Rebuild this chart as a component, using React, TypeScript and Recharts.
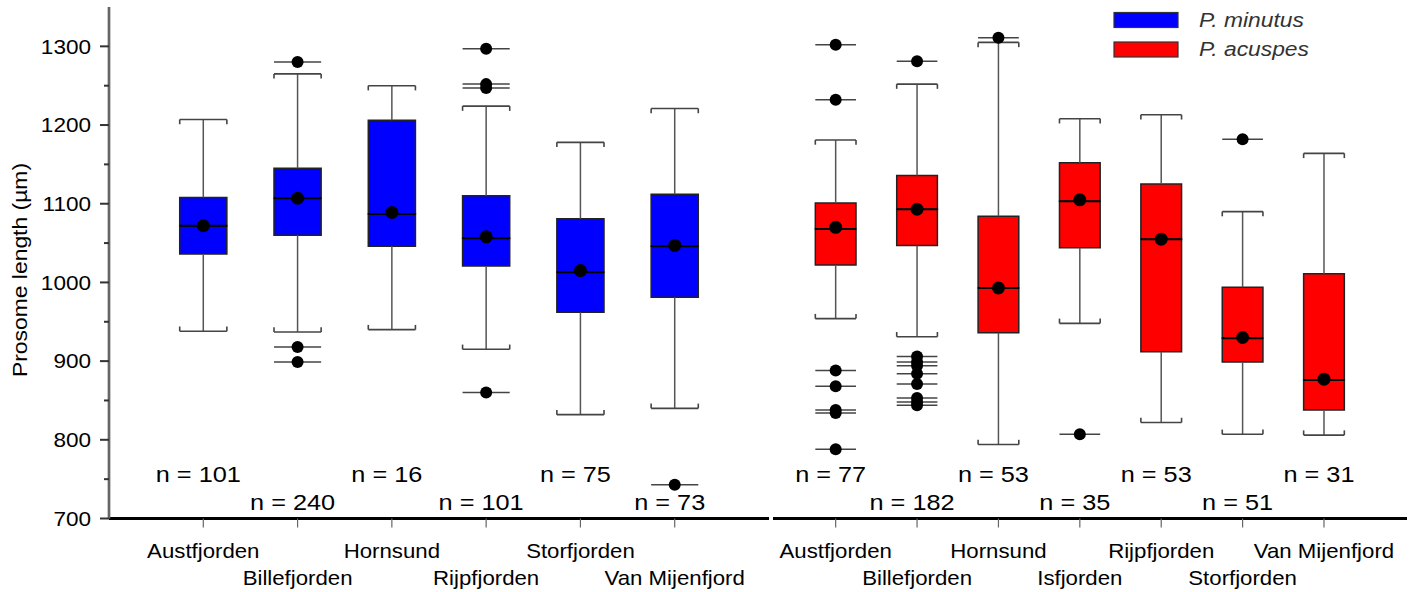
import React from 'react';
import { ScatterChart, Scatter, XAxis, YAxis, ReferenceArea, ReferenceLine, Legend } from 'recharts';

const FONT = '"Liberation Sans", Arial, Helvetica, sans-serif';

// ---------- data: P. minutus ----------
const minutusCategories = ['Austfjorden', 'Billefjorden', 'Hornsund', 'Rijpfjorden', 'Storfjorden', 'Van Mijenfjord'];
const minutusN = [101, 240, 16, 101, 75, 73];
const minutusLowCap = [938, 937, 940, 915, 832, 840];
const minutusQ1 = [1036, 1060, 1046, 1021, 962, 981];
const minutusMedian = [1072, 1107, 1087, 1056, 1013, 1046];
const minutusQ3 = [1108, 1145, 1206, 1110, 1081, 1112];
const minutusHighCap = [1207, 1265, 1250, 1224, 1178, 1221];
const minutusMean = [1072, 1107, 1089, 1058, 1015, 1047];
const minutusOutliers = [[], [1280, 918, 899], [], [1297, 1252, 1247, 860], [], [743]];

// ---------- data: P. acuspes ----------
const acuspesCategories = ['Austfjorden', 'Billefjorden', 'Hornsund', 'Isfjorden', 'Rijpfjorden', 'Storfjorden', 'Van Mijenfjord'];
const acuspesN = [77, 182, 53, 35, 53, 51, 31];
const acuspesLowCap = [954, 931, 794, 948, 822, 807, 806];
const acuspesQ1 = [1022, 1047, 936, 1044, 912, 899, 838];
const acuspesMedian = [1068, 1093, 993, 1103, 1055, 929, 876];
const acuspesQ3 = [1101, 1136, 1084, 1152, 1125, 994, 1011];
const acuspesHighCap = [1181, 1252, 1305, 1208, 1213, 1090, 1164];
const acuspesMean = [1070, 1093, 993, 1105, 1055, 930, 877];
const acuspesOutliers = [
  [1302, 1232, 888, 868, 838, 834, 788],
  [1281, 906, 899, 894, 884, 871, 853, 848, 844],
  [1311],
  [807],
  [],
  [1182],
  [],
];

const yTicks = [700, 750, 800, 850, 900, 950, 1000, 1050, 1100, 1150, 1200, 1250, 1300];
const Y_DOMAIN: [number, number] = [700, 1350];

// style / layout constants
const HALF = 0.25;
const CAP_TIP = 6;
const N_UPPER = 747;
const N_LOWER = 711;

type STProps = {
  x: number; y: number; anchor?: string; size: number; sx: number; fill?: string;
  italic?: boolean; rotate?: number; children: React.ReactNode;
};
const ST = ({ x, y, anchor = 'start', size, sx, fill = '#000', italic, rotate, children }: STProps) => (
  <text
    transform={`translate(${x},${y})${rotate ? ` rotate(${rotate})` : ''} scale(${sx},1)`}
    textAnchor={anchor as any}
    fontSize={size}
    fontFamily={FONT}
    fontStyle={italic ? 'italic' : 'normal'}
    fill={fill}
  >
    {children}
  </text>
);

const YTick = (p: any) => {
  const { x, y, payload } = p;
  const v = payload.value;
  const major = v % 100 === 0;
  return (
    <g>
      <line x1={x - (major ? 9 : 5)} x2={x} y1={y} y2={y} stroke="#333" strokeWidth={2} />
      {major && (
        <ST x={x - 18} y={y + 7.3} anchor="end" size={20.5} sx={1.1}>
          {v}
        </ST>
      )}
    </g>
  );
};

const makeXTick = (cats: string[]) => (p: any) => {
  const { x, y, payload } = p;
  const idx = Math.round(payload.value) - 1;
  const low = idx % 2 === 1;
  return (
    <g>
      <line x1={x} x2={x} y1={y} y2={y + 9} stroke="#666" strokeWidth={1.2} />
      <ST x={x} y={y + (low ? 66.5 : 39.5)} anchor="middle" size={20.2} sx={1.1}>
        {cats[idx]}
      </ST>
    </g>
  );
};

const YTitle = () => (
  <ST x={26.7} y={270} anchor="middle" size={21} sx={1.09} rotate={-90}>
    Prosome length (µm)
  </ST>
);

const MeanDot = (p: any) => <circle cx={p.cx} cy={p.cy} r={6.5} fill="#000" />;
const OutDot = (p: any) => <circle cx={p.cx} cy={p.cy} r={6} fill="#000" />;
const NLabel = (p: any) => (
  <ST x={p.cx - 5} y={p.cy} anchor="middle" size={22} sx={1.15}>
    {`n = ${p.payload.n}`}
  </ST>
);

type PanelCfg = {
  categories: string[]; n: number[]; lowCap: number[]; q1: number[]; median: number[];
  q3: number[]; highCap: number[]; mean: number[]; outliers: number[][]; color: string;
};

function buildRefs(c: PanelCfg) {
  const els: React.ReactNode[] = [];
  c.categories.forEach((_, i) => {
    const x = i + 1;
    const wl = '#555';
    // whiskers
    els.push(<ReferenceLine key={`wu${i}`} segment={[{ x, y: c.q3[i] }, { x, y: c.highCap[i] }]} stroke={wl} strokeWidth={1.5} />);
    els.push(<ReferenceLine key={`wl${i}`} segment={[{ x, y: c.q1[i] }, { x, y: c.lowCap[i] }]} stroke={wl} strokeWidth={1.5} />);
    // caps (brackets)
    els.push(<ReferenceLine key={`cu${i}`} segment={[{ x: x - HALF, y: c.highCap[i] }, { x: x + HALF, y: c.highCap[i] }]} stroke="#444" strokeWidth={1.6} />);
    els.push(<ReferenceLine key={`cul${i}`} segment={[{ x: x - HALF, y: c.highCap[i] }, { x: x - HALF, y: c.highCap[i] - CAP_TIP }]} stroke="#444" strokeWidth={1.6} />);
    els.push(<ReferenceLine key={`cur${i}`} segment={[{ x: x + HALF, y: c.highCap[i] }, { x: x + HALF, y: c.highCap[i] - CAP_TIP }]} stroke="#444" strokeWidth={1.6} />);
    els.push(<ReferenceLine key={`cl${i}`} segment={[{ x: x - HALF, y: c.lowCap[i] }, { x: x + HALF, y: c.lowCap[i] }]} stroke="#444" strokeWidth={1.6} />);
    els.push(<ReferenceLine key={`cll${i}`} segment={[{ x: x - HALF, y: c.lowCap[i] }, { x: x - HALF, y: c.lowCap[i] + CAP_TIP }]} stroke="#444" strokeWidth={1.6} />);
    els.push(<ReferenceLine key={`clr${i}`} segment={[{ x: x + HALF, y: c.lowCap[i] }, { x: x + HALF, y: c.lowCap[i] + CAP_TIP }]} stroke="#444" strokeWidth={1.6} />);
    // box halves
    els.push(<ReferenceArea key={`bl${i}`} x1={x - HALF} x2={x + HALF} y1={c.q1[i]} y2={c.median[i]} fill={c.color} fillOpacity={1} stroke="#222" strokeWidth={1.5} />);
    els.push(<ReferenceArea key={`bu${i}`} x1={x - HALF} x2={x + HALF} y1={c.median[i]} y2={c.q3[i]} fill={c.color} fillOpacity={1} stroke="#222" strokeWidth={1.5} />);
    els.push(<ReferenceLine key={`md${i}`} segment={[{ x: x - HALF, y: c.median[i] }, { x: x + HALF, y: c.median[i] }]} stroke="#000" strokeWidth={2} />);
    // outlier lines
    c.outliers[i].forEach((o, j) => {
      els.push(<ReferenceLine key={`ol${i}-${j}`} segment={[{ x: x - HALF, y: o }, { x: x + HALF, y: o }]} stroke="#444" strokeWidth={1.5} />);
    });
  });
  return els;
}

function seriesData(c: PanelCfg) {
  const means = c.mean.map((m, i) => ({ x: i + 1, y: m }));
  const outs: { x: number; y: number }[] = [];
  c.outliers.forEach((arr, i) => arr.forEach((o) => outs.push({ x: i + 1, y: o })));
  const labels = c.n.map((v, i) => ({ x: i + 1, y: i % 2 === 0 ? N_UPPER : N_LOWER, n: v }));
  return { means, outs, labels };
}

const minutusCfg: PanelCfg = {
  categories: minutusCategories, n: minutusN, lowCap: minutusLowCap, q1: minutusQ1, median: minutusMedian,
  q3: minutusQ3, highCap: minutusHighCap, mean: minutusMean, outliers: minutusOutliers, color: '#0000FF',
};
const acuspesCfg: PanelCfg = {
  categories: acuspesCategories, n: acuspesN, lowCap: acuspesLowCap, q1: acuspesQ1, median: acuspesMedian,
  q3: acuspesQ3, highCap: acuspesHighCap, mean: acuspesMean, outliers: acuspesOutliers, color: '#FF0000',
};

const RIGHT_LEFT = 760;

const LegendContent = () => (
  <svg width={260} height={64} style={{ display: 'block' }}>
    <rect x={1} y={12.5} width={64} height={15} fill="#0000FF" stroke="#333" strokeWidth={1.2} />
    <rect x={1} y={42} width={64} height={15} fill="#FF0000" stroke="#333" strokeWidth={1.2} />
    <ST x={86} y={27} size={19.5} sx={1.17} italic fill="#333">P. minutus</ST>
    <ST x={86} y={55.5} size={19.5} sx={1.17} italic fill="#333">P. acuspes</ST>
  </svg>
);

export default function App() {
  const ld = seriesData(minutusCfg);
  const rd = seriesData(acuspesCfg);
  return (
    <div style={{ position: 'absolute', left: 0, top: 0, width: 1418, height: 592, background: '#fff' }}>
      <div style={{ position: 'absolute', left: 0, top: 0 }}>
        <ScatterChart width={780} height={592} margin={{ top: 7, right: 11, bottom: 0.5, left: 0 }}>
          <XAxis
            dataKey="x" type="number" domain={[0, 7]} ticks={[1, 2, 3, 4, 5, 6]} interval={0}
            height={73} tickSize={0} tickMargin={0} tick={makeXTick(minutusCategories)}
            axisLine={{ stroke: '#000', strokeWidth: 3 }} tickLine={false}
          />
          <YAxis
            dataKey="y" type="number" domain={Y_DOMAIN} ticks={yTicks} interval={0} width={109}
            tickSize={0} tickMargin={0} tick={<YTick />} tickLine={false}
            axisLine={{ stroke: '#666', strokeWidth: 2.7 }} label={<YTitle />}
          />
          {buildRefs(minutusCfg)}
          <Scatter data={ld.outs} shape={OutDot} isAnimationActive={false} />
          <Scatter data={ld.means} shape={MeanDot} isAnimationActive={false} />
          <Scatter data={ld.labels} shape={NLabel} isAnimationActive={false} />
        </ScatterChart>
      </div>
      <div style={{ position: 'absolute', left: RIGHT_LEFT, top: 0 }}>
        <ScatterChart width={658} height={592} margin={{ top: 7, right: 11, bottom: 0.5, left: 13 }}>
          <XAxis
            dataKey="x" type="number" domain={[0.23, 8.02]} ticks={[1, 2, 3, 4, 5, 6, 7]} interval={0}
            height={73} tickSize={0} tickMargin={0} tick={makeXTick(acuspesCategories)}
            axisLine={{ stroke: '#000', strokeWidth: 3 }} tickLine={false}
          />
          <YAxis dataKey="y" type="number" domain={Y_DOMAIN} hide />
          {buildRefs(acuspesCfg)}
          <Scatter data={rd.outs} shape={OutDot} isAnimationActive={false} />
          <Scatter data={rd.means} shape={MeanDot} isAnimationActive={false} />
          <Scatter data={rd.labels} shape={NLabel} isAnimationActive={false} />
          <Legend
            layout="horizontal" verticalAlign="middle" align="center"
            content={<LegendContent />}
            wrapperStyle={{ position: 'absolute', left: 1113 - RIGHT_LEFT, top: 0, width: 260, height: 64 }}
          />
        </ScatterChart>
      </div>
    </div>
  );
}
